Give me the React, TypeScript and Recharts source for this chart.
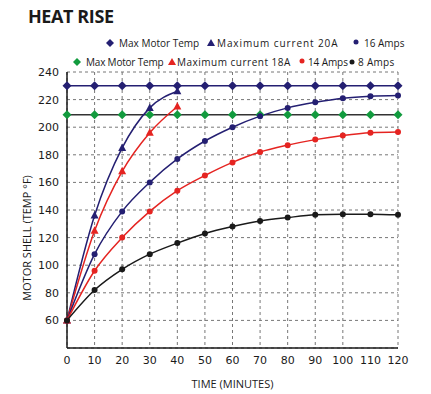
import React from 'react'
import { ComposedChart, Line, XAxis, YAxis, CartesianGrid, Label } from 'recharts'

const minutes = [0, 10, 20, 30, 40, 50, 60, 70, 80, 90, 100, 110, 120]
const maxMotorTemp20 = [230, 230, 230, 230, 230, 230, 230, 230, 230, 230, 230, 230, 230]
const maxMotorTemp18 = [209, 209, 209, 209, 209, 209, 209, 209, 209, 209, 209, 209, 209]
const current20A = [60, 136, 185, 214, 226]
const current18A = [60, 125, 168, 196, 215]
const amps16 = [60, 108, 139, 160, 177, 190, 200, 208, 214, 218, 221, 222.5, 223]
const amps14 = [60, 96, 120, 139, 154, 165, 174.5, 182, 187, 191, 194, 196, 196.5]
const amps8 = [60, 82, 97, 108, 116, 123, 128, 132, 134.5, 136.5, 137, 137, 136.5]
const yTicks = [60, 80, 100, 120, 140, 160, 180, 200, 220, 240]

const NAVY = '#241f72'
const RED = '#e52421'
const GREEN = '#129b3e'
const BLACK = '#1a1a1a'

const data = minutes.map((m, i) => ({
  t: m,
  mmt20: maxMotorTemp20[i],
  mmt18: maxMotorTemp18[i],
  c20: current20A[i],
  c18: current18A[i],
  a16: amps16[i],
  a14: amps14[i],
  a8: amps8[i],
}))

const Diamond = (color: string) => (props: any) => {
  const { cx, cy } = props
  if (cx == null || cy == null) return null
  return <polygon points={`${cx},${cy - 4.5} ${cx + 4.5},${cy} ${cx},${cy + 4.5} ${cx - 4.5},${cy}`} fill={color} />
}

const Triangle = (color: string) => (props: any) => {
  const { cx, cy } = props
  if (cx == null || cy == null) return null
  return <polygon points={`${cx},${cy - 4.5} ${cx + 4},${cy + 3} ${cx - 4},${cy + 3}`} fill={color} />
}

const Dot = (color: string) => (props: any) => {
  const { cx, cy } = props
  if (cx == null || cy == null) return null
  return <circle cx={cx} cy={cy} r={3} fill={color} />
}

const legendFont: React.CSSProperties = {
  position: 'absolute',
  fontFamily: '"Open Sans", sans-serif',
  fontSize: 10,
  color: '#1a1a1a',
  lineHeight: '14px',
  whiteSpace: 'nowrap',
}

function Mark({ x, y, kind, color }: { x: number; y: number; kind: string; color: string }) {
  return (
    <svg style={{ position: 'absolute', left: x - 5, top: y - 5 }} width={10} height={10}>
      {kind === 'd' && <polygon points="5,1 9,5 5,9 1,5" fill={color} />}
      {kind === 't' && <polygon points="5,1 9,8 1,8" fill={color} />}
      {kind === 'c' && <circle cx={5} cy={5} r={2.5} fill={color} />}
    </svg>
  )
}

function LegendText({ x, y, text, ls = 0 }: { x: number; y: number; text: string; ls?: number }) {
  return <div style={{ ...legendFont, left: x, top: y - 7, letterSpacing: ls }}>{text}</div>
}

export default function App() {
  return (
    <div style={{ position: 'absolute', left: 0, top: 0, width: 431, height: 394, background: '#fff' }}>
      <div
        style={{
          position: 'absolute',
          left: 28,
          top: 4,
          fontFamily: '"Open Sans", sans-serif',
          fontWeight: 700,
          fontSize: 18,
          letterSpacing: -0.4,
          color: '#1a1a1a',
        }}
      >
        HEAT RISE
      </div>

      <Mark x={110} y={43} kind="d" color={NAVY} />
      <LegendText x={119} y={43} text="Max Motor Temp" />
      <Mark x={211} y={43} kind="t" color={NAVY} />
      <LegendText x={217} y={43} text="Maximum current 20A" ls={0.9} />
      <Mark x={356} y={42} kind="c" color={NAVY} />
      <LegendText x={364} y={43} text="16 Amps" />

      <Mark x={77} y={62} kind="d" color={GREEN} />
      <LegendText x={86} y={62} text="Max Motor Temp" ls={-0.2} />
      <Mark x={172} y={62} kind="t" color={RED} />
      <LegendText x={177} y={62} text="Maximum current 18A" ls={0.5} />
      <Mark x={302} y={61} kind="c" color={RED} />
      <LegendText x={308} y={62} text="14 Amps" ls={-0.1} />
      <Mark x={352} y={62} kind="c" color={BLACK} />
      <LegendText x={358} y={62} text="8 Amps" ls={0.3} />

      <ComposedChart width={431} height={394} data={data} margin={{ top: 72, right: 33, bottom: 0, left: 0 }}>
        <CartesianGrid stroke="#777" strokeDasharray="3 3" />
        <XAxis
          dataKey="t"
          type="number"
          domain={[0, 120]}
          ticks={minutes}
          tickLine={false}
          height={46}
          axisLine={{ stroke: '#1a1a1a', strokeWidth: 1.5 }}
          tick={{ fill: '#1a1a1a', fontSize: 11, fontFamily: '"DejaVu Sans", sans-serif' }}
        >
          <Label
            value="TIME (MINUTES)"
            position="insideBottom"
            offset={6}
            style={{ fill: '#1a1a1a', fontSize: 11, fontFamily: '"Open Sans", sans-serif' }}
          />
        </XAxis>
        <YAxis
          type="number"
          domain={[40, 240]}
          ticks={yTicks}
          tickLine={false}
          width={67}
          axisLine={{ stroke: '#1a1a1a', strokeWidth: 1.5 }}
          tick={{ fill: '#1a1a1a', fontSize: 11, fontFamily: '"DejaVu Sans", sans-serif' }}
        >
          <Label
            value="MOTOR SHELL (TEMP °F)"
            angle={-90}
            position="insideLeft"
            offset={27}
            dy={28}
            style={{ textAnchor: 'middle', fill: '#1a1a1a', fontSize: 11, fontFamily: '"Open Sans", sans-serif' }}
          />
        </YAxis>
        <YAxis yAxisId="r" orientation="right" width={0} tick={false} tickLine={false} axisLine={{ stroke: '#1a1a1a', strokeWidth: 1.5 }} domain={[40, 240]} />
        <XAxis xAxisId="t" orientation="top" height={0} tick={false} tickLine={false} axisLine={{ stroke: '#1a1a1a', strokeWidth: 1.5 }} dataKey="t" type="number" domain={[0, 120]} />

        <Line dataKey="mmt20" stroke={NAVY} strokeWidth={1.5} type="linear" dot={Diamond(NAVY)} isAnimationActive={false} />
        <Line dataKey="mmt18" stroke="#333" strokeWidth={1.5} type="linear" dot={Diamond(GREEN)} isAnimationActive={false} />
        <Line dataKey="c20" stroke={NAVY} strokeWidth={1.5} type="monotone" dot={Triangle(NAVY)} isAnimationActive={false} />
        <Line dataKey="c18" stroke={RED} strokeWidth={1.5} type="monotone" dot={Triangle(RED)} isAnimationActive={false} />
        <Line dataKey="a16" stroke={NAVY} strokeWidth={1.5} type="monotone" dot={Dot(NAVY)} isAnimationActive={false} />
        <Line dataKey="a14" stroke={RED} strokeWidth={1.5} type="monotone" dot={Dot(RED)} isAnimationActive={false} />
        <Line dataKey="a8" stroke={BLACK} strokeWidth={1.5} type="monotone" dot={Dot(BLACK)} isAnimationActive={false} />
      </ComposedChart>
    </div>
  )
}
